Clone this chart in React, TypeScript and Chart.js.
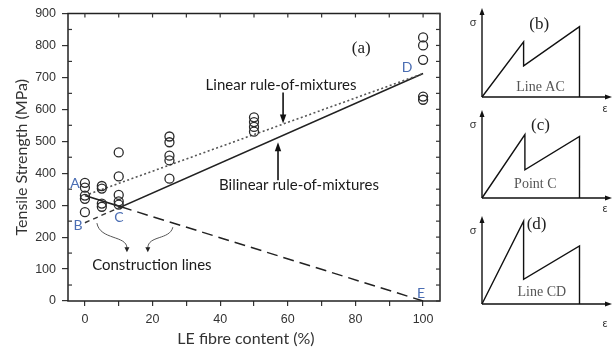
import React, { useEffect, useRef } from 'react';
import { Chart, registerables } from 'chart.js';
Chart.register(...registerables);

// ---- main chart data ----
const fibreContent = [0, 0, 0, 0, 0, 5, 5, 5, 5, 10, 10, 10, 10, 10, 25, 25, 25, 25, 25, 50, 50, 50, 50, 100, 100, 100, 100, 100];
const tensileStrength = [370, 355, 330, 320, 278, 360, 352, 305, 295, 465, 390, 332, 312, 302, 515, 497, 455, 440, 383, 575, 560, 545, 530, 825, 800, 755, 640, 630];

const linearRomX = [0, 100];
const linearRomY = [330, 712];
const bilinearRomX = [0, 10.67, 100];
const bilinearRomY = [330, 294.8, 712];
const constructionBCX = [0, 10.67];
const constructionBCY = [245, 294.8];
const constructionCEX = [10.67, 100];
const constructionCEY = [294.8, 0];

const pointLabels = ['A', 'B', 'C', 'D', 'E'];
const pointLabelX = [0, 0, 10.67, 100, 100];
const pointLabelY = [330, 245, 294.8, 712, 0];

const xTickValues = [0, 10, 20, 30, 40, 50, 60, 70, 80, 90, 100];
const yTickValues = [0, 50, 100, 150, 200, 250, 300, 350, 400, 450, 500, 550, 600, 650, 700, 750, 800, 850, 900];

// ---- schematic diagrams (b), (c), (d) ----
const diagramBStrain = [0, 32, 32, 75, 75];
const diagramBStress = [0, 62, 35, 79, 0];
const diagramCStrain = [0, 33, 33, 75, 75];
const diagramCStress = [0, 72, 32, 70, 0];
const diagramDStrain = [0, 32, 32, 75, 75];
const diagramDStress = [0, 94, 28, 66, 0];

const toPts = (xs: number[], ys: number[]) => xs.map((x, i) => ({ x, y: ys[i] }));

const SANS = 'Lato, "Open Sans", sans-serif';
const SERIF = '"Liberation Serif", "DejaVu Serif", serif';

function arrowHead(ctx: CanvasRenderingContext2D, x: number, y: number, angle: number, len = 8, half = 3) {
  ctx.save();
  ctx.translate(x, y);
  ctx.rotate(angle);
  ctx.beginPath();
  ctx.moveTo(0, 0);
  ctx.lineTo(-len, -half);
  ctx.lineTo(-len, half);
  ctx.closePath();
  ctx.fill();
  ctx.restore();
}

const mainDecor = {
  id: 'mainDecor',
  afterDraw(chart: any) {
    const { ctx, chartArea: ca, scales } = chart;
    const xs = scales.x, ys = scales.y;
    const P = (a: number, b: number): [number, number] => [xs.getPixelForValue(a), ys.getPixelForValue(b)];
    ctx.save();
    // frame
    ctx.strokeStyle = '#222';
    ctx.lineWidth = 1.5;
    ctx.strokeRect(ca.left, ca.top, ca.right - ca.left, ca.bottom - ca.top);
    // inner ticks top and right, minor inner ticks left
    ctx.lineWidth = 1.2;
    ctx.strokeStyle = '#333';
    xTickValues.forEach((v) => {
      const p = xs.getPixelForValue(v);
      ctx.beginPath(); ctx.moveTo(p, ca.top); ctx.lineTo(p, ca.top + 4); ctx.stroke();
    });
    yTickValues.forEach((v) => {
      const p = ys.getPixelForValue(v);
      ctx.beginPath(); ctx.moveTo(ca.right, p); ctx.lineTo(ca.right - 4, p); ctx.stroke();
      if (v % 100 !== 0) { ctx.beginPath(); ctx.moveTo(ca.left, p); ctx.lineTo(ca.left + 4, p); ctx.stroke(); }
    });

    // point labels
    ctx.fillStyle = '#4a6db3';
    ctx.font = `14px ${SANS}`;
    ctx.textAlign = 'center';
    ctx.textBaseline = 'middle';
    const offs: [number, number][] = [[-10, -12], [-7, 3], [-2, 11], [-16, -6], [-2, -8]];
    pointLabels.forEach((t, i) => {
      const [px, py] = P(pointLabelX[i], pointLabelY[i]);
      ctx.fillText(t, px + offs[i][0], py + offs[i][1]);
    });

    // (a)
    ctx.fillStyle = '#222';
    ctx.font = `17px ${SERIF}`;
    let q = P(81.7, 790);
    ctx.fillText('(a)', q[0], q[1]);

    // annotations
    ctx.fillStyle = '#1a1a1a';
    ctx.font = `15px ${SANS}`;
    q = P(58, 675);
    ctx.fillText('Linear rule-of-mixtures', q[0], q[1]);
    q = P(63.3, 362);
    ctx.fillText('Bilinear rule-of-mixtures', q[0], q[1]);
    q = P(19.8, 112);
    ctx.fillText('Construction lines', q[0], q[1]);

    ctx.strokeStyle = '#111';
    ctx.fillStyle = '#111';
    ctx.lineWidth = 1.6;
    // linear arrow (down)
    let a = P(58.6, 653), b = P(58.6, 556);
    ctx.beginPath(); ctx.moveTo(a[0], a[1]); ctx.lineTo(b[0], b[1] - 6); ctx.stroke();
    arrowHead(ctx, b[0], b[1], Math.PI / 2, 9, 3.2);
    // bilinear arrow (up)
    a = P(57.1, 378); b = P(57.1, 497);
    ctx.beginPath(); ctx.moveTo(a[0], a[1]); ctx.lineTo(b[0], b[1] + 6); ctx.stroke();
    arrowHead(ctx, b[0], b[1], -Math.PI / 2, 9, 3.2);

    // curved construction arrows
    ctx.strokeStyle = '#555';
    ctx.fillStyle = '#222';
    ctx.lineWidth = 1;
    const curve = (s: [number, number], c1: [number, number], c2: [number, number], e: [number, number]) => {
      const S = P(s[0], s[1]), C1 = P(c1[0], c1[1]), C2 = P(c2[0], c2[1]), E = P(e[0], e[1]);
      ctx.beginPath();
      ctx.moveTo(S[0], S[1]);
      ctx.bezierCurveTo(C1[0], C1[1], C2[0], C2[1], E[0], E[1] - 4);
      ctx.stroke();
      arrowHead(ctx, E[0], E[1], Math.PI / 2, 5, 2.5);
    };
    curve([3.55, 243.8], [4.44, 190.6], [12.43, 206], [12.43, 153]);
    curve([26.0, 231], [25.1, 190.6], [18.6, 206], [18.6, 153]);

    // x axis title (slightly left of centre, as in the source)
    ctx.fillStyle = '#333';
    ctx.font = `16px ${SANS}`;
    ctx.fillText('LE fibre content (%)', 246, 339);
    ctx.restore();
  },
};

function MainChart() {
  const ref = useRef<HTMLCanvasElement>(null);
  useEffect(() => {
    if (!ref.current) return;
    const chart = new Chart(ref.current, {
      type: 'scatter',
      data: {
        datasets: [
          {
            label: 'Measured',
            data: toPts(fibreContent, tensileStrength),
            pointStyle: 'circle',
            pointRadius: 4.5,
            backgroundColor: 'rgba(0,0,0,0)',
            borderColor: '#2a2a2a',
            pointBorderWidth: 1.3,
            showLine: false,
          },
          {
            label: 'Linear rule-of-mixtures',
            data: toPts(linearRomX, linearRomY),
            showLine: true,
            pointRadius: 0,
            borderColor: '#555',
            borderWidth: 1.6,
            borderDash: [2, 2.5],
          },
          {
            label: 'Bilinear rule-of-mixtures',
            data: toPts(bilinearRomX, bilinearRomY),
            showLine: true,
            pointRadius: 0,
            borderColor: '#222',
            borderWidth: 1.5,
          },
          {
            label: 'Construction BC',
            data: toPts(constructionBCX, constructionBCY),
            showLine: true,
            pointRadius: 0,
            borderColor: '#333',
            borderWidth: 1.4,
            borderDash: [5, 4],
          },
          {
            label: 'Construction CE',
            data: toPts(constructionCEX, constructionCEY),
            showLine: true,
            pointRadius: 0,
            borderColor: '#222',
            borderWidth: 1.5,
            borderDash: [11, 6],
          },
        ],
      },
      options: {
        responsive: false,
        animation: false,
        layout: { padding: { top: 13, right: 20, left: 0, bottom: 0 } },
        plugins: { legend: { display: false }, tooltip: { enabled: false } },
        scales: {
          x: {
            type: 'linear',
            min: -5,
            max: 105,
            afterFit: (s: any) => { s.height = 48; },
            afterBuildTicks: (s: any) => { s.ticks = xTickValues.map((v) => ({ value: v })); },
            ticks: {
              autoSkip: false,
              maxRotation: 0,
              callback: (v: any) => (Number(v) % 20 === 0 ? String(v) : ''),
              font: { family: '"Liberation Sans", Arial, sans-serif', size: 12.5 },
              color: '#333',
              padding: 6,
            },
            grid: { drawOnChartArea: false, tickLength: 5, color: '#333', lineWidth: 1.2 },
            border: { display: false },
            title: { display: false },
          },
          y: {
            type: 'linear',
            min: 0,
            max: 900,
            afterFit: (s: any) => { s.width = 68; },
            afterBuildTicks: (s: any) => { s.ticks = yTickValues.map((v) => ({ value: v })); },
            ticks: {
              autoSkip: false,
              callback: (v: any) => (Number(v) % 100 === 0 ? String(v) : ''),
              font: { family: '"Liberation Sans", Arial, sans-serif', size: 12.5 },
              color: '#333',
              padding: 6,
            },
            grid: {
              drawOnChartArea: false,
              tickLength: 6,
              lineWidth: 1.2,
              color: (c: any) => (c.tick && c.tick.value % 100 === 0 ? '#333' : 'rgba(0,0,0,0)'),
            },
            border: { display: false },
            title: {
              display: true,
              text: 'Tensile Strength (MPa)',
              font: { family: SANS, size: 16 },
              color: '#333',
              padding: { top: 12, bottom: 0 },
            },
          },
        },
      },
      plugins: [mainDecor],
    } as any);
    return () => chart.destroy();
  }, []);
  return <canvas ref={ref} width={460} height={349} style={{ position: 'absolute', left: 0, top: 0 }} />;
}

type DiagramProps = {
  top: number;
  height: number;
  padTop: number;
  padBottom: number;
  strain: number[];
  stress: number[];
  tag: string;
  caption: string;
  tagAt: [number, number];
  captionAt: [number, number];
  epsDy: number;
};

function Diagram(props: DiagramProps) {
  const ref = useRef<HTMLCanvasElement>(null);
  useEffect(() => {
    if (!ref.current) return;
    const decor = {
      id: 'diagDecor',
      afterDraw(chart: any) {
        const { ctx, chartArea: ca, scales } = chart;
        ctx.save();
        ctx.strokeStyle = '#111';
        ctx.fillStyle = '#111';
        ctx.lineWidth = 1.4;
        ctx.beginPath();
        ctx.moveTo(ca.left, ca.bottom); ctx.lineTo(ca.left, ca.top + 4);
        ctx.moveTo(ca.left, ca.bottom); ctx.lineTo(ca.right - 4, ca.bottom);
        ctx.stroke();
        arrowHead(ctx, ca.left, ca.top, -Math.PI / 2, 7, 2.5);
        arrowHead(ctx, ca.right, ca.bottom, 0, 7, 2.5);
        ctx.fillStyle = '#333';
        ctx.font = `11px ${SANS}`;
        ctx.textAlign = 'center';
        ctx.textBaseline = 'middle';
        ctx.fillText('σ', ca.left - 9, ca.top + 14);
        ctx.fillText('ε', ca.right - 7, ca.bottom + props.epsDy);
        ctx.fillStyle = '#222';
        ctx.font = `17px ${SERIF}`;
        ctx.fillText(props.tag, scales.x.getPixelForValue(props.tagAt[0]), scales.y.getPixelForValue(props.tagAt[1]));
        ctx.fillStyle = '#555';
        ctx.font = `14px ${SERIF}`;
        ctx.fillText(props.caption, scales.x.getPixelForValue(props.captionAt[0]), scales.y.getPixelForValue(props.captionAt[1]));
        ctx.restore();
      },
    };
    const chart = new Chart(ref.current, {
      type: 'line',
      data: {
        datasets: [
          {
            data: toPts(props.strain, props.stress),
            borderColor: '#111',
            borderWidth: 1.4,
            pointRadius: 0,
            tension: 0,
            clip: false,
          },
        ],
      },
      options: {
        responsive: false,
        animation: false,
        layout: { padding: { left: 12, right: 2, top: props.padTop, bottom: props.padBottom } },
        plugins: { legend: { display: false }, tooltip: { enabled: false } },
        scales: {
          x: { type: 'linear', min: 0, max: 100, display: false },
          y: { type: 'linear', min: 0, max: 100, display: false },
        },
      },
      plugins: [decor],
    } as any);
    return () => chart.destroy();
  }, []);
  return (
    <canvas
      ref={ref}
      width={144}
      height={props.height}
      style={{ position: 'absolute', left: 470, top: props.top }}
    />
  );
}

export default function App() {
  return (
    <div style={{ position: 'fixed', left: 0, top: 0, width: 614, height: 349, background: '#fff', overflow: 'hidden' }}>
      <MainChart />
      <Diagram top={0} height={115} padTop={8} padBottom={18} strain={diagramBStrain} stress={diagramBStress}
        tag="(b)" caption="Line AC" tagAt={[44, 81]} captionAt={[45, 11]} epsDy={11} />
      <Diagram top={100} height={115} padTop={10} padBottom={17} strain={diagramCStrain} stress={diagramCStress}
        tag="(c)" caption="Point C" tagAt={[45, 82]} captionAt={[41, 16]} epsDy={10} />
      <Diagram top={205} height={135} padTop={11} padBottom={36} strain={diagramDStrain} stress={diagramDStress}
        tag="(d)" caption="Line CD" tagAt={[42, 90]} captionAt={[46, 13]} epsDy={19} />
    </div>
  );
}
